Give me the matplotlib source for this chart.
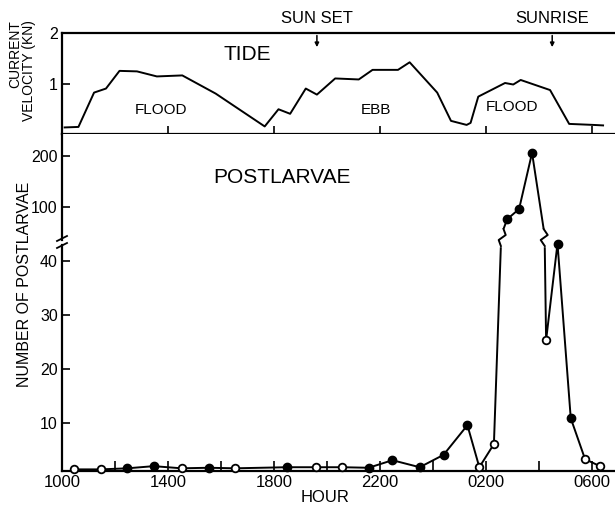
import matplotlib
matplotlib.use("Agg")
import matplotlib.pyplot as plt
import matplotlib.transforms as mtransforms
import numpy as np

plt.rcParams["font.family"] = ["Liberation Sans", "DejaVu Sans"]

# --------------------------------------------------
# Data (x = hours after 1000)
# --------------------------------------------------

tide_hours = [0.1, 0.62, 1.21, 1.66, 2.17, 2.83, 3.58, 4.54, 5.8, 7.65,
              8.17, 8.61, 9.2, 9.62, 10.31, 11.2, 11.72, 12.68, 13.12,
              14.16, 14.68, 15.27, 15.42, 15.71, 16.72, 17.03, 17.31,
              18.42, 19.14, 20.05, 20.42]
tide_speed = [0.13, 0.14, 0.82, 0.9, 1.25, 1.24, 1.14, 1.16, 0.8, 0.15,
              0.49, 0.4, 0.9, 0.78, 1.1, 1.08, 1.27, 1.27, 1.42,
              0.82, 0.26, 0.18, 0.22, 0.74, 1.01, 0.98, 1.07,
              0.87, 0.2, 0.18, 0.17]

catch_hours = [0.47, 1.46, 2.47, 3.46, 4.51, 5.53, 6.54, 8.49, 9.57, 10.58,
               11.57, 12.47, 13.5, 14.4, 15.3, 15.75, 16.3, 16.8, 17.25,
               17.74, 18.27, 18.7, 19.2, 19.74, 20.3]
catch_count = [1.4, 1.4, 1.6, 2.0, 1.6, 1.7, 1.6, 1.8, 1.8, 1.8,
               1.7, 3.1, 1.8, 4.1, 9.6, 1.8, 6.1, 76, 96,
               206, 25.4, 43.3, 10.9, 3.3, 2.0]
catch_open = [1, 1, 0, 0, 1, 0, 1, 0, 1, 1,
              0, 0, 0, 0, 0, 1, 1, 0, 0,
              0, 1, 0, 0, 1, 1]

hour_ticks = [0, 4, 8, 12, 16, 20]
hour_labels = ["1000", "1400", "1800", "2200", "0200", "0600"]

SUNSET = 9.62
SUNRISE = 18.5

# --------------------------------------------------
# Layout
# --------------------------------------------------

W, H = 615, 508
fig = plt.figure(figsize=(W / 100, H / 100), dpi=100)


def box(left, top, right, bottom):
    return [left / W, 1 - bottom / H, (right - left) / W, (bottom - top) / H]


def fx(px):
    return px / W


def fy(py):
    return 1 - py / H


ax_tide = fig.add_axes(box(62, 33, 615, 134))
ax_hi = fig.add_axes(box(62, 134, 615, 242), sharex=ax_tide)
ax_lo = fig.add_axes(box(62, 242, 615, 471), sharex=ax_tide)

for ax in (ax_tide, ax_hi, ax_lo):
    ax.spines["right"].set_visible(False)
    for s in ax.spines.values():
        s.set_linewidth(1.6)
    ax.tick_params(direction="in", length=6, width=1.2, labelsize=11.5, pad=3)
    ax.set_xlim(0, 20.87)

ax_hi.spines["top"].set_visible(False)
ax_hi.spines["bottom"].set_visible(False)
ax_lo.spines["top"].set_visible(False)

# --------------------------------------------------
# Tide panel
# --------------------------------------------------

ax_tide.plot(tide_hours, tide_speed, color="k", lw=1.4)
ax_tide.set_ylim(0, 2)
ax_tide.set_yticks([1, 2])
ax_tide.set_yticklabels(["1", "2"])
ax_tide.set_xticks(np.arange(0, 21, 2))
ax_tide.tick_params(axis="x", labelbottom=False)

ax_tide.text(6.98, 1.57, "TIDE", ha="center", va="center", fontsize=15)
ax_tide.text(3.74, 0.47, "FLOOD", ha="center", va="center", fontsize=11)
ax_tide.text(11.85, 0.47, "EBB", ha="center", va="center", fontsize=11)
ax_tide.text(16.98, 0.53, "FLOOD", ha="center", va="center", fontsize=11)

for t, name in [(SUNSET, "SUN SET"), (SUNRISE, "SUNRISE")]:
    ax_tide.annotate("", xy=(t, 1.72), xytext=(t, 1.95),
                     arrowprops=dict(arrowstyle="-|>", color="k", lw=1.1,
                                     mutation_scale=6, shrinkA=0, shrinkB=0),
                     annotation_clip=False)
    ax_tide.text(t, 2.19, name, ha="center", va="baseline", fontsize=12,
                 clip_on=False)

# --------------------------------------------------
# Postlarvae panel (broken y axis)
# --------------------------------------------------

hours = np.array(catch_hours)
count = np.array(catch_count)
is_open = np.array(catch_open, dtype=bool)

ax_hi.set_ylim(31.4, 243)
ax_lo.set_ylim(1.1, 43.6)
high = count > ax_lo.get_ylim()[1]

# lower part: the whole series, clipped at the break
ax_lo.plot(hours, count, color="k", lw=1.4)
# upper part: only the segments that reach above the break
for i in range(len(hours) - 1):
    if high[i] or high[i + 1]:
        ax_hi.plot(hours[i:i + 2], count[i:i + 2], color="k", lw=1.4)

for ax, sel in ((ax_lo, ~high), (ax_hi, high)):
    ax.plot(hours[sel & ~is_open], count[sel & ~is_open], "o",
            ms=6, mfc="k", mec="k", clip_on=False, zorder=4)
    ax.plot(hours[sel & is_open], count[sel & is_open], "o",
            ms=5.5, mfc="white", mec="k", mew=1.3, clip_on=False, zorder=4)

ax_hi.set_yticks([100, 200])
ax_hi.tick_params(axis="x", bottom=False, labelbottom=False)
ax_hi.spines["left"].set_bounds(36, 243)

ax_lo.set_yticks([10, 20, 30, 40])
ax_lo.spines["left"].set_bounds(1.1, 43.0)
ax_lo.set_xticks(hour_ticks)
ax_lo.set_xticklabels(hour_labels)
ax_lo.set_xticks(np.arange(2, 21, 4), minor=True)
ax_lo.tick_params(axis="x", which="both", direction="in", length=7,
                  width=1.2, labelsize=12)

ax_hi.text(8.3, 157, "POSTLARVAE", ha="center", va="center", fontsize=15)

# break marks on the left axis
for py in (238.5, 245.5):
    fig.add_artist(plt.Line2D([fx(57), fx(67)], [fy(py + 2.5), fy(py - 2.5)],
                              color="k", lw=1.3))


# zigzag where a line crosses the axis break
def x_at(ax, i, py):
    p0 = ax.transData.transform((hours[i], count[i]))
    p1 = ax.transData.transform((hours[i + 1], count[i + 1]))
    yd = H - py
    return p0[0] + (yd - p0[1]) * (p1[0] - p0[0]) / (p1[1] - p0[1])


pix = mtransforms.IdentityTransform()
for i in range(len(hours) - 1):
    if high[i] == high[i + 1]:
        continue
    xa = x_at(ax_lo, i, 246)
    xb = x_at(ax_hi, i, 229)
    xm = (xa + xb) / 2
    fig.add_artist(plt.Rectangle((min(xa, xb) - 6, H - 246), abs(xb - xa) + 12,
                                 17, transform=pix, color="white", zorder=5))
    fig.add_artist(plt.Line2D([xa, xm - 3.5, xm + 3.5, xb],
                              [H - 246, H - 240, H - 235, H - 229],
                              transform=pix, color="k", lw=1.4, zorder=6))

# --------------------------------------------------
# Axis titles
# --------------------------------------------------

fig.text(fx(325), fy(498), "HOUR", ha="center", va="center", fontsize=12)
fig.text(fx(25), fy(284), "NUMBER OF POSTLARVAE", rotation=90,
         ha="center", va="center", fontsize=11.5)
fig.text(fx(15), fy(20), "CURRENT", rotation=90, ha="center", va="top",
         fontsize=10)
fig.text(fx(29), fy(20), "VELOCITY (KN)", rotation=90, ha="center",
         va="top", fontsize=10)

fig.savefig("out.png", dpi=100)
